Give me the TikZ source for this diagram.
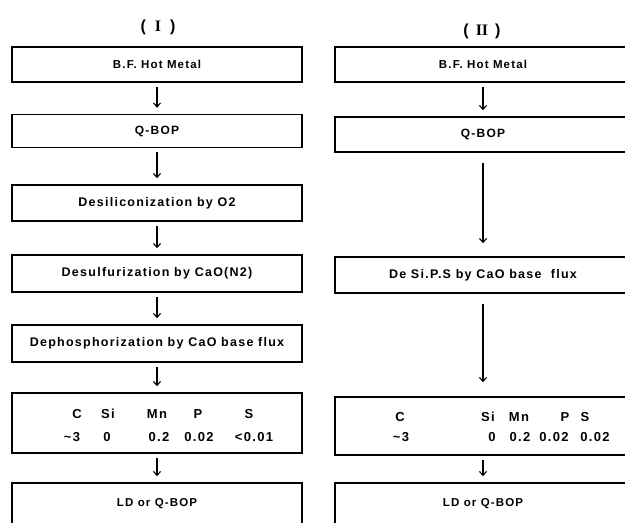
\documentclass[tikz,border=0pt]{standalone}
\usepackage{fontspec}
\setmainfont{Liberation Sans}[LetterSpace=10]
\newfontfamily\headfont{Liberation Serif}
\usetikzlibrary{arrows.meta}

\newcommand{\fsz}[1]{\fontsize{#1}{#1}\selectfont}

\tikzset{
  stepbox/.style={draw, line width=1.5pt, rectangle, inner sep=0pt,
    font=\bfseries\fsz{12.5}},
  leftbox/.style={stepbox, minimum width=290pt},
  rightbox/.style={stepbox, minimum width=296pt},
  lastbox/.style={minimum height=70pt, text height=8pt, text depth=31pt,
    font=\bfseries\fsz{11.5}},
  flow/.style={line width=1.1pt,
    -{Straight Barb[length=4pt,width=7pt,line width=1.1pt]}},
  shortflow/.style={flow, shorten <=4pt, shorten >=6pt},
  heading/.style={font=\bfseries\fsz{16}},
  comp/.style={font=\bfseries\fsz{13}, inner sep=0pt},
}

\begin{document}
\begin{tikzpicture}[x=1pt,y=-1pt]
\useasboundingbox (0,0) rectangle (625,523);
\clip (0,0) rectangle (625,523);

% column headings
\node[heading] (h1) at (158,27) {(\hspace{9pt}{\headfont I}\hspace{9pt})};
\node[heading] (h2) at (482,31) {(\hspace{7pt}{\headfont II}\hspace{7pt})};

% route I
\node[leftbox, minimum height=35pt, font=\bfseries\fsz{11.5}] (l1) at (157,64.5) {B.F. Hot Metal};
\node[leftbox, minimum height=33pt, font=\bfseries\fsz{12}] (l2) at (157,131) {Q-BOP};
\node[leftbox, minimum height=36pt] (l3) at (157,203) {Desiliconization by O2};
\node[leftbox, minimum height=37pt] (l4) at (157,273.5) {Desulfurization by CaO(N2)};
\node[leftbox, minimum height=37pt] (l5) at (157,343.5) {Dephosphorization by CaO base flux};
\node[leftbox, minimum height=60pt] (l6) at (157,423) {};
\node[leftbox, lastbox] (l7) at (157,518) {LD or Q-BOP};

\node[comp] (lc)  at (77,414)  {C};
\node[comp] (lsi) at (108,414) {Si};
\node[comp] (lmn) at (157,414) {Mn};
\node[comp] (lp)  at (198,414) {P};
\node[comp] (ls)  at (249,414) {S};
\node[comp] (lvc)  at (72,437)  {\textasciitilde3};
\node[comp] (lvsi) at (107,437) {0};
\node[comp] (lvmn) at (159,437) {0.2};
\node[comp] (lvp)  at (199,437) {0.02};
\node[comp] (lvs)  at (254,437) {<0.01};

\draw[shortflow] (l1.south) -- (l2.north);
\draw[shortflow] (l2.south) -- (l3.north);
\draw[shortflow] (l3.south) -- (l4.north);
\draw[shortflow] (l4.south) -- (l5.north);
\draw[shortflow] (l5.south) -- (l6.north);
\draw[shortflow] (l6.south) -- (l7.north);

% route II
\node[rightbox, minimum height=35pt, font=\bfseries\fsz{11.5}] (r1) at (483,64.5) {B.F. Hot Metal};
\node[rightbox, minimum height=35pt, font=\bfseries\fsz{12}] (r2) at (483,134.5) {Q-BOP};
\node[rightbox, minimum height=36pt] (r3) at (483,275) {De Si.P.S by CaO base\ \ flux};
\node[rightbox, minimum height=58pt] (r4) at (483,426) {};
\node[rightbox, lastbox] (r5) at (483,518) {LD or Q-BOP};

\node[comp] (rc)  at (400,417) {C};
\node[comp] (rsi) at (488,417) {Si};
\node[comp] (rmn) at (519,417) {Mn};
\node[comp] (rp)  at (565,417) {P};
\node[comp] (rs)  at (585,417) {S};
\node[comp] (rvc)  at (401,437) {\textasciitilde3};
\node[comp] (rvsi) at (492,437) {0};
\node[comp] (rvmn) at (520,437) {0.2};
\node[comp] (rvp)  at (554,437) {0.02};
\node[comp] (rvs)  at (595,437) {0.02};

\draw[shortflow] (r1.south) -- (r2.north);
\draw[flow, shorten <=10pt, shorten >=13pt] (r2.south) -- (r3.north);
\draw[flow, shorten <=10pt, shorten >=14pt] (r3.south) -- (r4.north);
\draw[shortflow] (r4.south) -- (r5.north);
\end{tikzpicture}
\end{document}
